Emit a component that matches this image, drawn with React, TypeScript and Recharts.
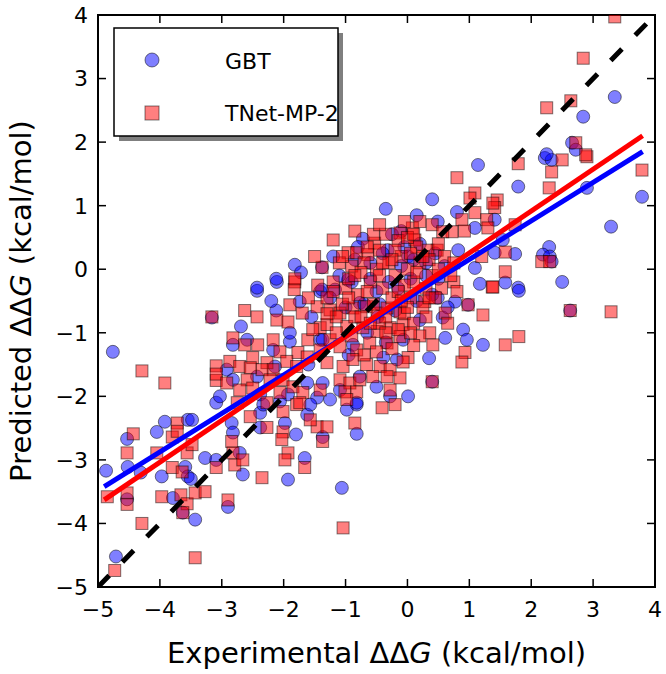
import React from 'react';
import { ScatterChart, Scatter, XAxis, YAxis, Label, ReferenceArea } from 'recharts';

const AXIS_TICKS = [-5, -4, -3, -2, -1, 0, 1, 2, 3, 4];

const GBT_POINTS: [number, number][] = [
  [-3.09, -2.1], [-3.03, -2.0], [-3.92, -2.4], [-3.55, -2.37], [-3.48, -2.37], [-4.05, -2.56],
  [-4.53, -2.67], [-4.87, -3.17], [-4.52, -3.11], [-4.31, -3.2], [-3.97, -3.26], [-3.27, -2.97],
  [-3.09, -3.0], [-3.59, -3.11], [-3.55, -3.26], [-3.79, -3.6], [-3.63, -3.83], [-3.43, -3.94],
  [-4.71, -4.52], [-4.53, -3.62], [-4.76, -1.3], [-3.5, -3.3],
  [-2.43, -0.34], [-2.11, -0.2], [-1.74, -0.51], [-1.41, -0.35], [-2.12, -0.65], [-2.69, -0.9],
  [-2.59, -1.11], [-2.82, -1.19], [-2.17, -1.27], [-1.9, -1.14], [-1.9, -1.0], [-1.41, -1.11],
  [-2.92, -1.58], [-2.43, -1.69], [-2.14, -1.53], [-2.82, -1.74], [-2.38, -1.97], [-1.62, -1.79],
  [-1.46, -2.02], [-1.93, -1.97], [-2.06, -2.08], [-3.16, -0.76],
  [-2.84, -2.42], [-2.82, -2.57], [-2.38, -2.26], [-2.33, -2.13], [-1.98, -2.42], [-1.62, -2.29],
  [-1.57, -2.13], [-1.37, -2.64], [-2.71, -2.89], [-2.66, -3.23], [-1.66, -2.97], [-1.93, -3.31],
  [-2.9, -3.74], [-2.38, -2.49],
  [-1.06, -3.44], [-0.82, -2.59], [-0.98, -2.21], [-0.82, -2.13],
  [1.09, 0.02], [1.17, -0.23], [0.77, -0.51], [0.9, -0.95], [0.96, -1.11], [1.22, -1.19],
  [0.61, -1.08], [0.49, -0.45], [0.4, -0.4], [0.01, -2.0], [0.57, -0.76], [0.98, -0.56], [0.4, -1.77],
  [1.79, 1.3], [2.9, 1.28], [3.79, 1.14], [3.29, 0.67], [2.29, 0.35], [2.19, 0.23], [2.3, 0.2],
  [1.74, 0.24], [1.41, 0.26], [1.58, -0.21], [1.79, -0.29], [2.5, -0.2], [1.41, 0.78], [1.54, 0.46],
  [2.22, 1.75], [2.33, 1.72], [2.33, 0.12],
  [3.35, 2.71], [2.84, 2.4], [2.66, 1.99], [2.72, 1.88], [2.25, 1.81],
  [2.63, -0.65], [1.8, -0.34],
  [1.14, 1.64], [0.4, 1.1], [0.8, 0.9], [1.09, 0.65], [0.49, 0.75], [0.82, 0.3], [0.01, 0.2],
  [-0.72, 0.48], [-0.32, 0.3], [-1.38, -0.32], [-1.17, -0.32], [-0.96, -0.17], [-1.38, 0.03],
  [-1.82, 0.07], [-1.72, -0.05], [-2.12, -0.15], [-2.43, -0.29],
  [-0.77, -0.53], [-1.37, -1.11], [-0.88, -1.19], [-0.39, -1.39], [-0.17, -1.42], [-0.77, -1.69],
  [-1.09, -1.9], [-1.25, -2.05], [-0.82, -2.1], [-0.28, -2.0], [-0.07, -1.11], [-0.48, -0.75],
  [-1.37, -1.79],
  [-0.3, -0.2], [-0.1, 0.05], [0.05, -0.15], [-0.6, 0.1], [-0.9, -0.2], [0.2, 0.4], [0.3, -0.1],
  [-0.4, 0.25], [-1.1, -0.1], [0.45, 0.25], [-0.7, -0.55], [-0.2, -0.65], [0.15, -0.5], [0.6, 0.05],
  [-0.5, -0.35], [-0.05, 0.35], [0.65, -0.6], [-1.2, 0.2], [-0.8, 0.35], [-0.35, 0.95], [0.15, 0.85],
  [-0.1, 0.6],
  [-0.25, 0.55], [0.3, 0.1], [-0.6, -0.15], [-1.0, -0.6], [-0.15, -0.3], [0.1, 0.15], [-0.45, -0.55],
  [-0.85, 0.15], [-1.25, -0.45], [0.5, -0.15], [-0.35, -1.15], [-0.65, -1.0], [0.2, -0.8],
  [-1.55, -0.75], [-1.6, -1.5], [-0.95, -1.35], [0.35, -1.4], [-0.5, -1.85], [-1.8, -2.6], [-2.2, -0.5],
];

const TNET_POINTS: [number, number][] = [
  [-4.29, -1.6], [-3.92, -1.79], [-3.09, -1.52], [-3.09, -1.75], [-3.72, -2.42], [-4.43, -2.59],
  [-4.53, -2.89], [-4.05, -2.89], [-3.8, -2.64], [-3.56, -2.89], [-3.48, -2.76], [-3.8, -3.12],
  [-3.64, -3.19], [-3.09, -3.12], [-4.85, -3.58], [-4.53, -3.52], [-4.53, -3.7], [-3.97, -3.58],
  [-3.66, -3.55], [-3.56, -3.69], [-3.43, -3.52], [-3.27, -3.5], [-3.63, -3.83], [-4.29, -4.0],
  [-3.43, -4.54], [-4.73, -4.74], [-3.72, -2.55], [-3.09, -1.65],
  [-1.82, -0.2], [-1.83, -0.32], [-1.9, -0.56], [-2.63, -0.65], [-2.43, -0.75], [-2.11, -0.8],
  [-1.93, -0.83], [-1.7, -0.69], [-1.46, -0.59], [-1.41, -0.92], [-2.82, -1.08], [-2.63, -1.19],
  [-2.42, -1.19], [-2.17, -1.11], [-2.06, -1.3], [-1.77, -1.31], [-1.61, -1.11], [-1.53, -0.95],
  [-2.5, -1.39], [-2.27, -1.47], [-2.87, -1.45], [-2.71, -1.53], [-1.95, -1.45], [-2.17, -1.58],
  [-2.35, -1.58], [-2.54, -1.55], [-1.79, -1.53], [-1.62, -1.38], [-1.41, -1.27], [-2.59, -1.74],
  [-2.22, -1.74], [-2.01, -1.74], [-1.85, -1.85], [-2.71, -1.9], [-2.5, -1.87], [-2.06, -1.94],
  [-1.69, -1.94], [-1.41, -1.9], [-2.75, -2.1], [-2.27, -2.1], [-1.79, -2.13], [-2.92, -1.79],
  [-3.16, -0.75],
  [-2.54, -2.32], [-2.27, -2.49], [-2.01, -2.24], [-2.01, -2.56], [-2.03, -2.68], [-2.84, -2.71],
  [-1.93, -2.89], [-1.98, -3.0], [-2.82, -2.89], [-2.79, -3.08], [-2.66, -3.0], [-2.35, -3.28],
  [-1.66, -3.12], [-1.46, -2.48], [-1.3, -2.48], [-1.37, -2.71], [-1.57, -2.37], [-2.9, -3.63],
  [-1.74, -2.1],
  [-0.85, -2.42], [-0.41, -2.18], [-0.2, -2.13], [-1.04, -4.07],
  [1.37, -0.28], [1.22, -0.72], [0.98, -0.56], [0.93, -1.31], [0.88, -1.46], [0.41, -1.19],
  [0.36, -1.0], [0.01, -1.39], [0.4, -1.77], [0.61, -0.69], [0.28, -0.51], [0.75, -0.2], [1.2, 0.2],
  [1.79, 1.66], [2.5, 1.72], [2.9, 1.77], [2.33, 1.53], [2.29, 1.28], [3.79, 1.56], [1.45, 1.09],
  [1.41, 0.97], [1.74, 0.7], [1.58, 0.27], [2.17, 0.12], [2.3, 0.12], [1.58, -0.04], [1.38, -0.28],
  [3.35, 3.97], [2.84, 3.32], [2.25, 2.54], [2.64, 2.65], [2.72, 1.99], [2.88, 1.8],
  [2.63, -0.65], [3.29, -0.67], [1.8, -1.06], [1.58, -1.19],
  [0.8, 1.44], [1.09, 1.2], [1.01, 1.12], [0.4, 0.7], [0.08, 0.65], [1.09, 0.89], [1.28, 0.78],
  [0.88, 0.78], [0.72, 0.59], [0.57, 0.59], [0.92, 0.6], [0.12, 0.46], [0.48, 0.3], [0.33, 0.3],
  [1.3, 0.65], [1.38, 1.04],
  [-1.2, 0.46], [-0.96, 0.26], [-0.82, 0.26], [-0.53, 0.41], [-0.64, 0.23], [-0.12, 0.57],
  [-1.38, 0.03], [-1.82, -0.15],
  [-1.25, -0.64], [-1.09, -0.69], [-0.88, -0.61], [-0.66, -0.59], [-0.49, -0.69], [-0.33, -0.61],
  [-0.12, -0.67], [-1.3, -0.87], [-0.98, -0.9], [-0.72, -0.92], [-0.49, -0.98], [-0.28, -0.92],
  [-0.07, -0.87], [-1.25, -1.11], [-1.09, -1.22], [-0.82, -1.27], [-0.61, -1.16], [-0.33, -1.16],
  [-0.12, -1.06], [-1.3, -1.47], [-1.04, -1.53], [-0.88, -1.42], [-0.66, -1.5], [-0.44, -1.53],
  [-0.28, -1.58], [-0.07, -1.46], [-1.09, -1.74], [-0.93, -1.79], [-0.77, -1.74], [-0.56, -1.69],
  [-0.33, -1.69], [-0.12, -1.71], [-1.01, -1.93], [-0.82, -1.93], [-0.98, -2.05], [-0.28, -1.9],
  [-0.3, 0.1], [-0.2, -0.1], [-0.1, 0.2], [0.0, 0.0], [0.1, -0.2], [0.2, 0.1], [0.3, -0.3],
  [-0.4, -0.3], [-0.5, 0.0], [-0.6, -0.2], [-0.7, 0.1], [-0.8, -0.4], [-0.9, 0.05], [-1.0, -0.3],
  [-1.1, 0.1], [-1.2, -0.2], [-1.3, -0.45], [0.05, -0.45], [0.15, 0.35], [-0.15, 0.45], [-0.45, 0.3],
  [0.25, -0.6], [0.35, 0.15], [-0.55, -0.55], [-0.25, -0.45], [0.4, -0.1], [-0.05, -0.7],
  [-0.35, 0.55], [-0.75, -0.05], [-0.65, 0.35], [-0.95, -0.15], [0.0, 0.5], [0.1, 0.55], [-0.2, 0.3],
  [0.5, 0.0], [0.55, -0.3], [0.6, 0.2], [0.7, -0.1], [0.75, 0.1], [0.8, -0.35], [-1.05, -0.55],
  [-1.15, -0.75], [-0.85, -0.75], [-0.45, -0.85], [-0.15, -0.95], [0.1, -0.85], [0.2, -1.05],
  [-0.25, 0.15], [-0.05, -0.25], [0.15, -0.05], [-0.45, -0.1], [-0.65, -0.35], [-0.85, -0.1],
  [-1.05, 0.2], [-0.35, -0.75], [-0.55, 0.55], [0.05, 0.25], [0.25, 0.2], [0.3, -0.75],
  [-0.15, -0.35], [-0.75, -0.75], [-0.95, -0.45], [-1.2, -0.35], [-0.4, 0.1], [0.0, -0.6],
  [0.45, -0.45], [0.5, 0.4], [-0.6, -0.85], [-0.25, -1.25], [-0.5, -1.3], [-0.7, -1.35], [0.1, -1.2],
  [-0.05, 0.75], [-0.45, 0.7], [0.2, 0.75], [-0.85, 0.6], [-1.45, -0.25], [-1.5, 0.2], [-1.6, -0.45],
  [-1.3, -0.7], [0.65, -0.85], [0.05, -1.0], [-0.9, -1.05], [-1.15, -1.0], [-0.35, -1.0],
  [0.35, -0.45], [-0.1, -0.5],
];

// fitted lines and the y = x guide, as end points
const GBT_FIT: [number, number][] = [[-4.9, -3.42], [3.8, 1.85]];
const TNET_FIT: [number, number][] = [[-4.9, -3.63], [3.8, 2.1]];
const IDENTITY: [number, number][] = [[-5, -5], [4, 4]];

const SERIES_NAMES = ['GBT', 'TNet-MP-2'];

const W = 666;
const H = 674;
const MARGIN = { top: 15, right: 11, bottom: 0, left: 0 };
const Y_AXIS_W = 98;
const X_AXIS_H = 87;
const PLOT_W = W - Y_AXIS_W - MARGIN.left - MARGIN.right;
const PLOT_H = H - X_AXIS_H - MARGIN.top - MARGIN.bottom;
const FONT = '"DejaVu Sans", sans-serif';
const TICK_LEN = 8;
const TICK_FONT = 22;
const LABEL_FONT = 29;

const toXY = (pts: [number, number][]) => pts.map(([x, y]) => ({ x, y }));
const fmt = (v: number) => (v < 0 ? `\u2212${-v}` : `${v}`);

const BottomTick = (props: any) => {
  const { x, y, payload } = props;
  return (
    <g>
      <line x1={x} y1={y} x2={x} y2={y - TICK_LEN} stroke="#000" strokeWidth={1.5} />
      <line x1={x} y1={y - PLOT_H} x2={x} y2={y - PLOT_H + TICK_LEN} stroke="#000" strokeWidth={1.5} />
      <text x={x} y={y + 30} textAnchor="middle" fontSize={TICK_FONT} fontFamily={FONT} fill="#000">
        {fmt(payload.value)}
      </text>
    </g>
  );
};

const LeftTick = (props: any) => {
  const { x, y, payload } = props;
  return (
    <g>
      <line x1={x} y1={y} x2={x + TICK_LEN} y2={y} stroke="#000" strokeWidth={1.5} />
      <line x1={x + PLOT_W} y1={y} x2={x + PLOT_W - TICK_LEN} y2={y} stroke="#000" strokeWidth={1.5} />
      <text x={x - 10} y={y} dy="0.36em" textAnchor="end" fontSize={TICK_FONT} fontFamily={FONT} fill="#000">
        {fmt(payload.value)}
      </text>
    </g>
  );
};

const Dot = (props: any) => (
  <circle cx={props.cx} cy={props.cy} r={6.5} fill="#0000ff" fillOpacity={0.5} stroke="#000" strokeOpacity={0.5} strokeWidth={1} />
);

const Square = (props: any) => (
  <rect x={props.cx - 6} y={props.cy - 6} width={12} height={12} fill="#ff0000" fillOpacity={0.5} stroke="#000" strokeOpacity={0.5} strokeWidth={1} />
);

const NoShape = () => <g />;

const DeltaG = () => (
  <>
    {'\u0394\u0394'}
    <tspan fontStyle="italic">G</tspan>
  </>
);

const LegendBox = () => (
  <svg width={W} height={H} style={{ position: 'absolute', left: 0, top: 0, pointerEvents: 'none' }}>
    <rect x={119} y={33} width={224} height={108} fill="#7f7f7f" />
    <rect x={114} y={28} width={224} height={108} fill="#fff" stroke="#000" strokeWidth={1.5} />
    <circle cx={152} cy={60} r={7} fill="#0000ff" fillOpacity={0.5} stroke="#000" strokeOpacity={0.5} />
    <text x={225} y={69} fontSize={22} fontFamily={FONT}>{SERIES_NAMES[0]}</text>
    <rect x={145} y={106} width={14} height={14} fill="#ff0000" fillOpacity={0.5} stroke="#000" strokeOpacity={0.5} />
    <text x={225} y={121} fontSize={22} fontFamily={FONT}>{SERIES_NAMES[1]}</text>
  </svg>
);

export default function App() {
  return (
    <div style={{ position: 'absolute', left: 0, top: 0, width: W, height: H, background: '#fff' }}>
      <ScatterChart width={W} height={H} margin={MARGIN}>
        <XAxis
          type="number"
          dataKey="x"
          domain={[-5, 4]}
          ticks={AXIS_TICKS}
          interval={0}
          height={X_AXIS_H}
          tickSize={0}
          tickMargin={0}
          axisLine={false}
          tickLine={false}
          tick={<BottomTick />}
          allowDataOverflow
        >
          <Label
            content={(p: any) => {
              const vb = p.viewBox;
              return (
                <text x={vb.x + vb.width / 2} y={vb.y + 76} textAnchor="middle" fontSize={LABEL_FONT} fontFamily={FONT}>
                  Experimental <DeltaG /> (kcal/mol)
                </text>
              );
            }}
          />
        </XAxis>
        <YAxis
          type="number"
          dataKey="y"
          domain={[-5, 4]}
          ticks={AXIS_TICKS}
          interval={0}
          width={Y_AXIS_W}
          tickSize={0}
          tickMargin={0}
          axisLine={false}
          tickLine={false}
          tick={<LeftTick />}
          allowDataOverflow
        >
          <Label
            content={(p: any) => {
              const vb = p.viewBox;
              const cy = vb.y + vb.height / 2;
              return (
                <text transform={`translate(31, ${cy}) rotate(-90)`} textAnchor="middle" fontSize={LABEL_FONT} fontFamily={FONT}>
                  Predicted <DeltaG /> (kcal/mol)
                </text>
              );
            }}
          />
        </YAxis>
        <Scatter name={SERIES_NAMES[0]} data={toXY(GBT_POINTS)} shape={Dot} isAnimationActive={false} />
        <Scatter name={SERIES_NAMES[1]} data={toXY(TNET_POINTS)} shape={Square} isAnimationActive={false} />
        <Scatter data={toXY(GBT_FIT)} fill="#0000ff" line={{ stroke: '#0000ff', strokeWidth: 5 }} shape={NoShape} isAnimationActive={false} />
        <Scatter data={toXY(TNET_FIT)} fill="#ff0000" line={{ stroke: '#ff0000', strokeWidth: 5 }} shape={NoShape} isAnimationActive={false} />
        <Scatter data={toXY(IDENTITY)} fill="#000" line={{ stroke: '#000', strokeWidth: 5, strokeDasharray: '16 19' }} shape={NoShape} isAnimationActive={false} />
        <ReferenceArea x1={-5} x2={4} y1={-5} y2={4} fill="none" fillOpacity={0} stroke="#000" strokeWidth={2} />
      </ScatterChart>
      <LegendBox />
    </div>
  );
}
